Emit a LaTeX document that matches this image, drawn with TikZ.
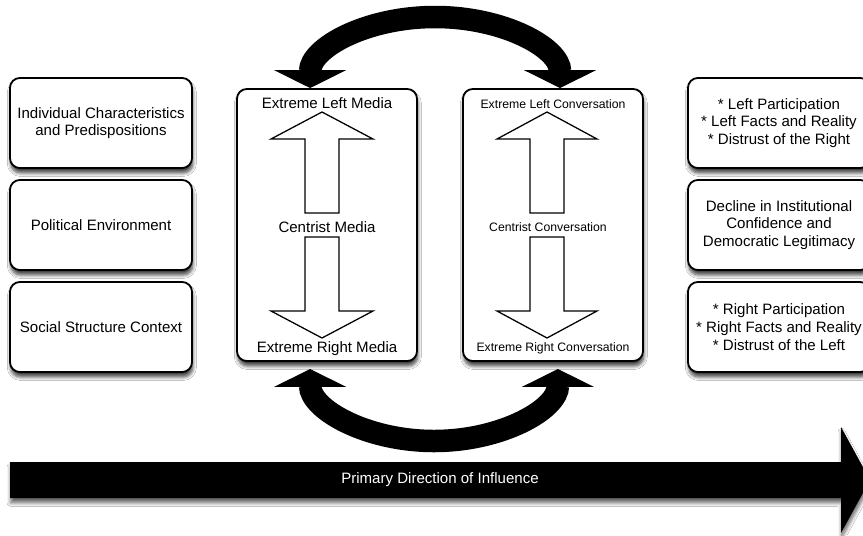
\documentclass[tikz,border=0pt]{standalone}
\usepackage{fontspec}
\setmainfont{Liberation Sans}
\usetikzlibrary{arrows.meta,shadows.blur}

\begin{document}
\begin{tikzpicture}[x=0.025cm,y=0.025cm]
\tikzstyle{every node}+=[font=\fontsize{10.7}{12.6}\selectfont]
\tikzstyle{sidebox}=[draw, line width=1.3pt, rounded corners=7pt, fill=white, align=center, minimum width=4.55cm, minimum height=2.25cm, blur shadow={shadow xshift=0.6pt, shadow yshift=-3.5pt, shadow opacity=75, shadow blur steps=6, shadow blur radius=2.5pt}]
\tikzstyle{panel}=[sidebox, minimum width=4.5cm, minimum height=6.8cm]
\tikzstyle{small}=[font=\fontsize{8.7}{10.4}\selectfont]
\tikzstyle{hollow}=[draw, line width=0.9pt, fill=white]
\tikzstyle{swing}=[line width=16pt, {Triangle[length=12.8pt,width=51pt]}-{Triangle[length=12.8pt,width=51pt]}]
\useasboundingbox (0,0) rectangle (863,-535);
\clip (0,0) rectangle (863,-535);
\fill [white] (0,0) rectangle (863,-535);
\node [sidebox] (indiv) at (101,-123) {Individual Characteristics\\and Predispositions};
\node [sidebox] (polenv) at (101,-225) {Political Environment};
\node [sidebox] (social) at (101,-327) {Social Structure Context};
\node [panel] (media) at (327,-225) {};
\node [panel] (conv) at (553,-225) {};
\node [sidebox] (leftout) at (779,-123) {* Left Participation\\* Left Facts and Reality\\* Distrust of the Right};
\node [sidebox] (decline) at (779,-225) {Decline in Institutional\\Confidence and\\Democratic Legitimacy};
\node [sidebox] (rightout) at (779,-327) {* Right Participation\\* Right Facts and Reality\\* Distrust of the Left};
\node (mleft) at (327,-103) {Extreme Left Media};
\node (mcent) at (327,-227) {Centrist Media};
\node (mright) at (327,-349) {Extreme Right Media};
\node [small] (cleft) at (553,-104) {Extreme Left Conversation};
\node [small] (ccent) at (548,-227) {Centrist Conversation};
\node [small] (cright) at (553,-348) {Extreme Right Conversation};
\coordinate (mup) at (322,-213);
\coordinate (mdown) at (322,-237);
\coordinate (cup) at (547,-213);
\coordinate (cdown) at (547,-237);
\coordinate (toparc) at (435,-17);
\coordinate (lowarc) at (434,-441);
\draw [hollow] (mup) ++(-17,0) -- ++(0,74) -- ++(-34,0) -- ++(51,27) -- ++(51,-27) -- ++(-34,0) -- ++(0,-74) -- cycle;
\draw [hollow] (mdown) ++(-17,0) -- ++(0,-74) -- ++(-34,0) -- ++(51,-27) -- ++(51,27) -- ++(-34,0) -- ++(0,74) -- cycle;
\draw [hollow] (cup) ++(-17,0) -- ++(0,74) -- ++(-33,0) -- ++(50,27) -- ++(50,-27) -- ++(-33,0) -- ++(0,-74) -- cycle;
\draw [hollow] (cdown) ++(-17,0) -- ++(0,-74) -- ++(-33,0) -- ++(50,-27) -- ++(50,27) -- ++(-33,0) -- ++(0,74) -- cycle;
\draw [swing] ([xshift=-12pt]media.north) .. controls +(0,40) and +(-69,0) .. (toparc) .. controls +(69,0) and +(0,40) .. ([xshift=5pt]conv.north);
\draw [swing] ([xshift=-12pt,yshift=-5pt]media.south) .. controls +(0,-40) and +(-68,0) .. (lowarc) .. controls +(68,0) and +(0,-40) .. ([xshift=3.5pt,yshift=-5pt]conv.south);
\fill [blur shadow={shadow xshift=0.4pt, shadow yshift=-3.5pt, shadow opacity=60, shadow blur steps=6, shadow blur radius=2.5pt}] (10,-462) -- (841,-462) -- (841,-427) -- (870,-480) -- (841,-533) -- (841,-498) -- (10,-498) -- cycle;
\node [text=white] (flow) at (440,-480) {Primary Direction of Influence};
\end{tikzpicture}
\end{document}
